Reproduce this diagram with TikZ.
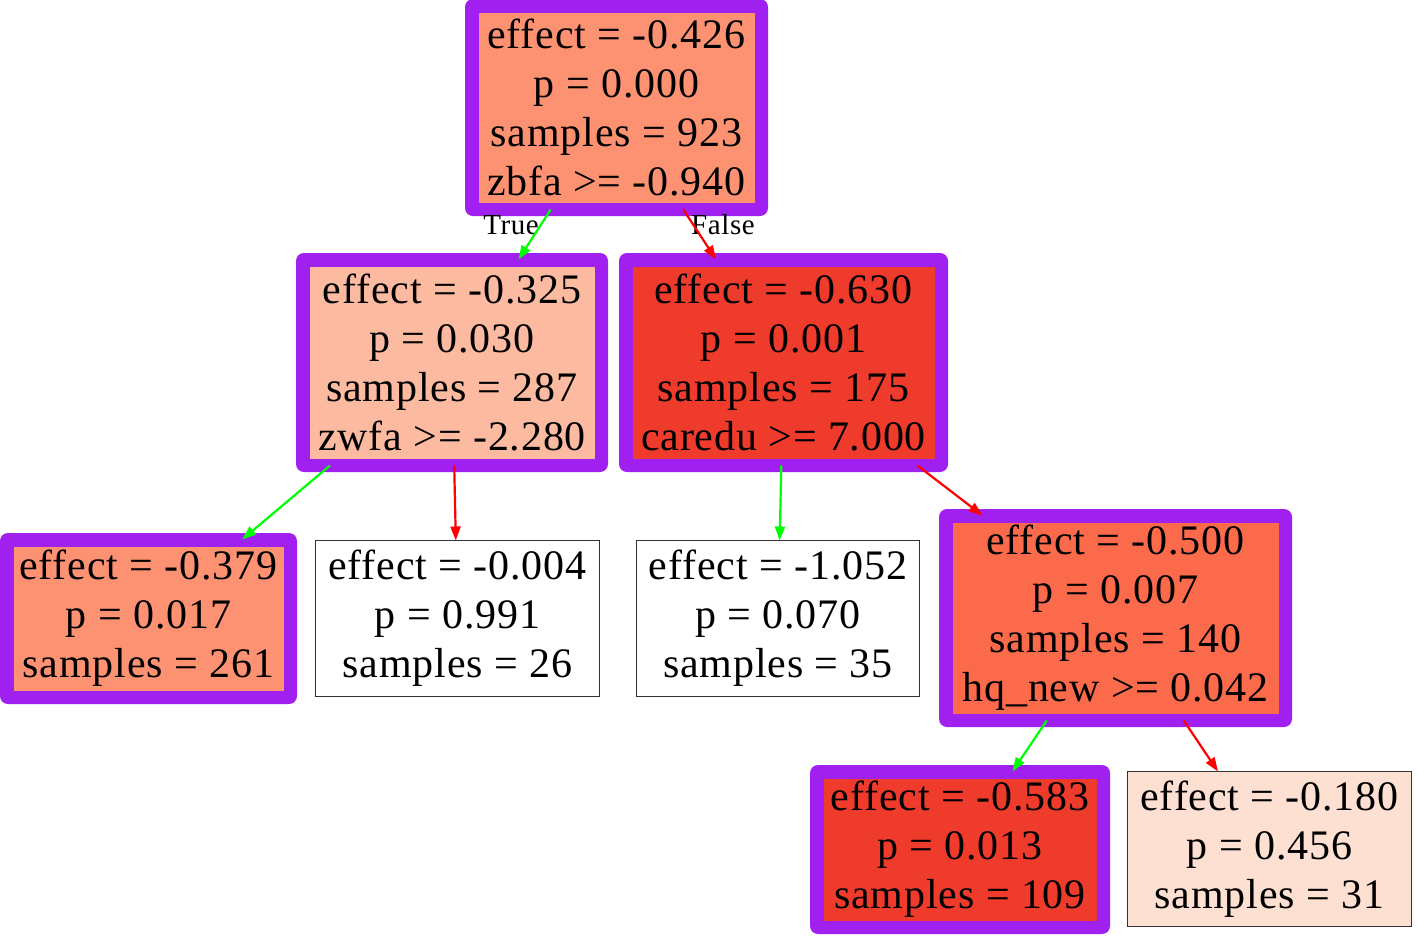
\documentclass[tikz,border=0pt]{standalone}
\usepackage{fontspec}
\usetikzlibrary{arrows.meta}
\newfontfamily\gvfont[LetterSpace=2]{Liberation Serif}
\definecolor{gvpurple}{HTML}{A020F0}
\definecolor{gvgreen}{HTML}{00FF00}
\definecolor{gvred}{HTML}{FF0000}
\definecolor{redA}{HTML}{FEE0D2}
\definecolor{redB}{HTML}{FCBBA1}
\definecolor{redC}{HTML}{FC9272}
\definecolor{redD}{HTML}{FB6A4A}
\definecolor{redE}{HTML}{EF3B2C}
\begin{document}
\begin{tikzpicture}[
    x=1pt, y=-1pt,
    treenode/.style={rectangle, inner sep=0pt, align=center, text centered,
        font=\gvfont\fontsize{42pt}{49pt}\selectfont},
    splitnode/.style={treenode, fill=gvpurple, rounded corners=8pt, outer sep=-6.5pt,
        path picture={\fill[#1, sharp corners]
            ([shift={(13.5pt,13.5pt)}]path picture bounding box.south west) rectangle
            ([shift={(-13.5pt,-13.5pt)}]path picture bounding box.north east);}},
    leafnode/.style={treenode, draw=black!80, line width=1.5pt, fill=#1, outer sep=0pt},
    edgelabel/.style={inner sep=0pt, font=\gvfont\fontsize{29pt}{32pt}\selectfont},
    trueedge/.style={-{Triangle[length=14pt, width=10pt]}, gvgreen, line width=2.2pt},
    falseedge/.style={-{Triangle[length=14pt, width=10pt]}, gvred, line width=2.2pt}
]
    \useasboundingbox (0,0) rectangle (1418,935);

    \node[splitnode=redC, minimum width=303pt, minimum height=217pt] (root) at (616.5,107.5)
        {effect = -0.426\\p = 0.000\\samples = 923\\zbfa >= -0.940};
    \node[splitnode=redB, minimum width=312pt, minimum height=219pt] (zwfa) at (452,362.5)
        {effect = -0.325\\p = 0.030\\samples = 287\\zwfa >= -2.280};
    \node[splitnode=redE, minimum width=329pt, minimum height=219pt] (caredu) at (783.5,362.5)
        {effect = -0.630\\p = 0.001\\samples = 175\\caredu >= 7.000};
    \node[splitnode=redC, minimum width=297pt, minimum height=171pt] (leafA) at (148.5,618.5)
        {effect = -0.379\\p = 0.017\\samples = 261};
    \node[leafnode=white, minimum width=284pt, minimum height=156pt] (leafB) at (457.5,618.5)
        {effect = -0.004\\p = 0.991\\samples = 26};
    \node[leafnode=white, minimum width=283pt, minimum height=156pt] (leafC) at (778,618.5)
        {effect = -1.052\\p = 0.070\\samples = 35};
    \node[splitnode=redD, minimum width=353pt, minimum height=218pt] (hqnew) at (1115.5,618)
        {effect = -0.500\\p = 0.007\\samples = 140\\hq\_new >= 0.042};
    \node[splitnode=redE, minimum width=300pt, minimum height=169pt] (leafD) at (960,849.5)
        {effect = -0.583\\p = 0.013\\samples = 109};
    \node[leafnode=redA, minimum width=284pt, minimum height=155pt] (leafE) at (1269.5,849)
        {effect = -0.180\\p = 0.456\\samples = 31};

    \node[edgelabel] (truelbl) at (511,225) {True};
    \node[edgelabel] (falselbl) at (723,225) {False};

    \draw[trueedge] (root) -- (zwfa);
    \draw[falseedge] (root) -- (caredu);
    \draw[trueedge] (zwfa) -- (leafA);
    \draw[falseedge] (zwfa) -- (leafB);
    \draw[trueedge] (caredu) -- (leafC);
    \draw[falseedge] (caredu) -- (hqnew);
    \draw[trueedge] (hqnew) -- (leafD);
    \draw[falseedge] (hqnew) -- (leafE);
\end{tikzpicture}
\end{document}
